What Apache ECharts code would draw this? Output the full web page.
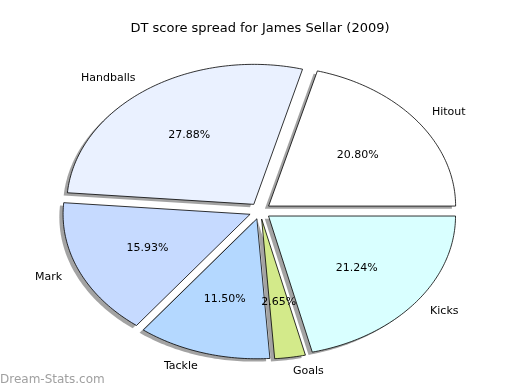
<!DOCTYPE html>
<html><head><meta charset="utf-8">
<script src="https://cdn.jsdelivr.net/npm/echarts@6/dist/echarts.min.js"></script>
<style>html,body{margin:0;padding:0;background:#fff}#c{width:520px;height:390px}</style>
</head>
<body><div id="c"></div>
<script>
const chartTitle = 'DT score spread for James Sellar (2009)';
const categories = ['Hitout', 'Handballs', 'Mark', 'Tackle', 'Goals', 'Kicks'];
const values = [20.80, 27.88, 15.93, 11.50, 2.65, 21.24];
const colors = ['#ffffff', '#eaf1ff', '#c6daff', '#b4d8ff', '#d3ea8a', '#d9ffff'];
const explode = [0.058, 0.058, 0.058, 0.058, 0.058, 0.058];

const CX = 260, CY = 211, RX = 187, RY = 140;
const FONT = '"DejaVu Sans", sans-serif';

const total = values.reduce((a, b) => a + b, 0);
const starts = [];
let acc = 0;
values.forEach(v => { starts.push(acc); acc += v; });

function geom(i) {
  const t1 = starts[i] / total * 360;
  const t2 = (starts[i] + values[i]) / total * 360;
  const tm = (t1 + t2) / 2 * Math.PI / 180;
  const ex = explode[i];
  const ox = CX + ex * RX * Math.cos(tm);
  const oy = CY - ex * RY * Math.sin(tm);
  return { t1, t2, tm, ox, oy };
}
function wedgePoints(i, dx, dy) {
  const g = geom(i);
  const pts = [[g.ox + dx, g.oy + dy]];
  const n = Math.max(4, Math.ceil((g.t2 - g.t1) / 1));
  for (let k = 0; k <= n; k++) {
    const a = (g.t1 + (g.t2 - g.t1) * k / n) * Math.PI / 180;
    pts.push([g.ox + dx + RX * Math.cos(a), g.oy + dy - RY * Math.sin(a)]);
  }
  return pts;
}

const seriesData = values.map((v, i) => ({ name: categories[i], value: v }));

const chart = echarts.init(document.getElementById('c'), null, { renderer: 'canvas' });
chart.setOption({
  animation: false,
  backgroundColor: '#ffffff',
  title: {
    text: chartTitle, left: 'center', top: 17,
    textStyle: { fontFamily: FONT, fontSize: 13, fontWeight: 'normal', color: '#000' }
  },
  graphic: [{
    type: 'text', left: 0, top: 374,
    style: { text: 'Dream-Stats.com', font: '12px ' + FONT, fill: '#a0a0a0' }
  }],
  series: [
    {
      type: 'custom', coordinateSystem: 'none', z: 1, silent: true,
      data: seriesData,
      renderItem: function (params) {
        const i = params.dataIndex;
        return {
          type: 'polygon',
          shape: { points: wedgePoints(i, -0.02 * RX, 0.02 * RY) },
          style: { fill: 'rgba(0,0,0,0.36)', stroke: 'none' }
        };
      }
    },
    {
      type: 'custom', coordinateSystem: 'none', z: 2, silent: true,
      data: seriesData,
      renderItem: function (params) {
        const i = params.dataIndex;
        const g = geom(i);
        const c = Math.cos(g.tm), s = Math.sin(g.tm);
        const lx = g.ox + 1.1 * RX * c, ly = g.oy - 1.1 * RY * s;
        const px = g.ox + 0.6 * RX * c, py = g.oy - 0.6 * RY * s;
        return {
          type: 'group',
          children: [
            {
              type: 'polygon',
              shape: { points: wedgePoints(i, 0, 0) },
              style: { fill: colors[i], stroke: '#000', lineWidth: 0.8, lineJoin: 'miter' }
            },
            {
              type: 'text', z2: 10,
              style: {
                text: categories[i], x: lx, y: ly,
                align: c >= 0 ? 'left' : 'right', verticalAlign: 'middle',
                font: '11px ' + FONT, fill: '#000'
              }
            },
            {
              type: 'text', z2: 10,
              style: {
                text: (values[i] / total * 100).toFixed(2) + '%', x: px, y: py,
                align: 'center', verticalAlign: 'middle',
                font: '11px ' + FONT, fill: '#000'
              }
            }
          ]
        };
      }
    }
  ]
});
</script>
</body></html>
